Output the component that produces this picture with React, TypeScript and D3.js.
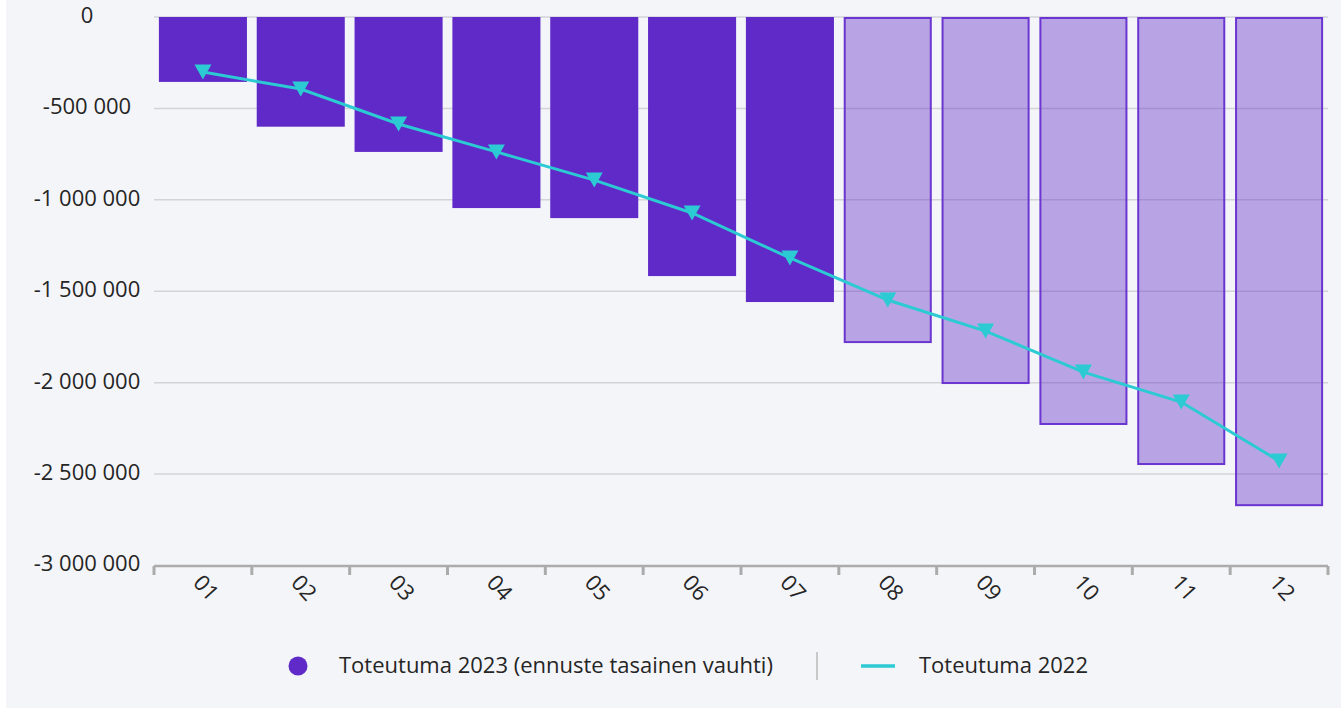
import * as d3 from "d3";

const months = ["01", "02", "03", "04", "05", "06", "07", "08", "09", "10", "11", "12"];
// 2023 actual (first 7) + forecast (last 5)
const values2023 = [-355000, -600000, -738000, -1045000, -1100000, -1417000, -1559000, -1778000, -2002000, -2226000, -2445000, -2670000];
const isForecast = [false, false, false, false, false, false, false, true, true, true, true, true];
const values2022 = [-301000, -394000, -585000, -738000, -892000, -1072000, -1318000, -1548000, -1718000, -1942000, -2106000, -2429000];
const yTicks = [0, -500000, -1000000, -1500000, -2000000, -2500000, -3000000];

const W = 1341;
const H = 708;
const font = "'Open Sans', 'Noto Sans', sans-serif";
const fs = 22;

const fmt = (v: number) => {
  const s = d3.format(",")(Math.abs(v)).replace(/,/g, " ");
  return (v < 0 ? "-" : "") + s;
};

export default function App() {
  const x = d3.scaleBand<string>().domain(months).range([154, 1328]).paddingInner(0.1).paddingOuter(0.05);
  const y = d3.scaleLinear().domain([0, -3000000]).range([17, 565.5]);

  const line = d3
    .line<number>()
    .x((_, i) => (x(months[i]) as number) + x.bandwidth() / 2)
    .y((d) => y(d));

  const purple = "#602ac8";
  const teal = "#2ccad3";

  return (
    <div style={{ position: "absolute", left: 0, top: 0 }}>
      <svg width={W} height={H} style={{ display: "block" }}>
        <rect x={0} y={0} width={W} height={H} fill="#f4f5f9" />
        <rect x={0} y={0} width={6} height={H} fill="#ffffff" />

        {/* grid */}
        {yTicks.slice(0, -1).map((t) => (
          <line key={t} x1={154} x2={1328} y1={y(t)} y2={y(t)} stroke="#d3d3d8" strokeWidth={1.5} />
        ))}

        {/* y labels */}
        {yTicks.map((t) => (
          <text
            key={t}
            x={87}
            y={y(t)}
            textAnchor="middle"
            dominantBaseline="middle"
            fontFamily={font}
            fontSize={fs}
            fill="#252525"
          >
            {fmt(t)}
          </text>
        ))}

        {/* bars */}
        {values2023.map((v, i) => {
          const bx = x(months[i]) as number;
          const f = isForecast[i];
          return (
            <rect
              key={i}
              x={f ? bx + 1 : bx}
              y={y(0) + (f ? 1 : 0)}
              width={f ? x.bandwidth() - 2 : x.bandwidth()}
              height={y(v) - y(0) - (f ? 1 : 0)}
              fill={purple}
              fillOpacity={f ? 0.4 : 1}
              stroke={f ? "#6a35d0" : "none"}
              strokeWidth={2}
            />
          );
        })}

        {/* x axis */}
        <line x1={154} x2={1328} y1={566} y2={566} stroke="#ababab" strokeWidth={2.5} />
        {[...months.map((m) => (x(m) as number) - x.step() * x.paddingInner() / 2), 1328].map((tx, i) => (
          <line key={i} x1={i === 0 ? 154 : tx} x2={i === 0 ? 154 : tx} y1={566} y2={575} stroke="#ababab" strokeWidth={3} />
        ))}
        {months.map((m) => {
          const cx = (x(m) as number) + x.bandwidth() / 2;
          return (
            <text
              key={m}
              transform={`translate(${cx + 2},${589}) rotate(48)`}
              textAnchor="middle"
              dominantBaseline="middle"
              fontFamily={font}
              fontSize={fs}
              fill="#252525"
            >
              {m}
            </text>
          );
        })}

        {/* 2022 line */}
        <path d={line(values2022) || ""} fill="none" stroke={teal} strokeWidth={3} />
        {values2022.map((v, i) => {
          const cx = (x(months[i]) as number) + x.bandwidth() / 2;
          const cy = y(v);
          return <path key={i} d={`M${cx - 8.5},${cy - 7.5}L${cx + 8.5},${cy - 7.5}L${cx},${cy + 7.5}Z`} fill={teal} />;
        })}

        {/* legend */}
        <circle cx={298} cy={666} r={9.5} fill={purple} />
        <text x={339} y={667} dominantBaseline="middle" fontFamily={font} fontSize={fs} fill="#252525">
          Toteutuma 2023 (ennuste tasainen vauhti)
        </text>
        <line x1={817} x2={817} y1={652} y2={680} stroke="#c8c8c8" strokeWidth={2} />
        <line x1={861} x2={895} y1={666} y2={666} stroke={teal} strokeWidth={3.5} />
        <text x={919} y={667} dominantBaseline="middle" fontFamily={font} fontSize={fs} fill="#252525">
          Toteutuma 2022
        </text>
      </svg>
    </div>
  );
}
